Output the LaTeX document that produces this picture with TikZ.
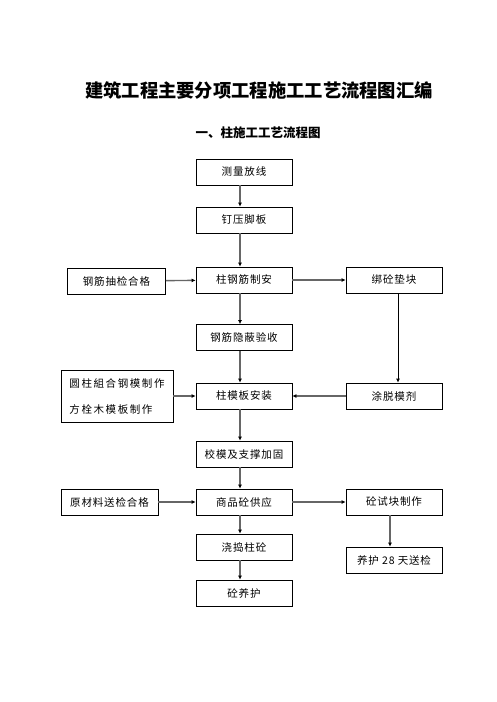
\documentclass[tikz,border=0pt]{standalone}
\usepackage{fontspec}
\newfontfamily\cjk{Noto Sans CJK SC}
\newfontfamily\cjkbox{Noto Sans CJK SC}[LetterSpace=8]
\newfontfamily\cjkwide{Noto Sans CJK SC}[LetterSpace=15]
\usetikzlibrary{arrows.meta}
\begin{document}
\begin{tikzpicture}[x=1pt,y=-1pt,
  box/.style={draw,line width=0.8pt,minimum width=96pt,minimum height=26pt,inner sep=0pt,font=\cjkbox\fontsize{10.5}{12}\selectfont},
  flow/.style={-{Latex[length=4pt,width=4pt,color=black]},draw=black!60,line width=1.4pt},
  thin/.style={-{Latex[length=4pt,width=4pt]},line width=0.8pt}]
\useasboundingbox[fill=white] (0,0) rectangle (496,702);
\node[font=\cjk\bfseries\fontsize{18.3}{22}\selectfont] (title) at (259,90) {建筑工程主要分项工程施工工艺流程图汇编};
\node[font=\cjk\bfseries\fontsize{12.5}{15}\selectfont] (sub) at (258,133) {一、柱施工工艺流程图};
\node[box] (clx) at (244,172) {测量放线};
\node[box] (dyjb) at (244,220) {钉压脚板};
\node[box] (gjza) at (244,280) {柱钢筋制安};
\node[box] (gjys) at (244,337.5) {钢筋隐蔽验收};
\node[box] (mbaz) at (244,396) {柱模板安装};
\node[box] (jmjg) at (244,454) {校模及支撑加固};
\node[box] (sphg) at (244,502) {商品砼供应};
\node[box] (jdzt) at (244,547) {浇捣柱砼};
\node[box] (tyh) at (244,593) {砼养护};
\node[box,minimum width=98pt] (gjcj) at (116.5,281) {钢筋抽检合格};
\node[box,minimum width=112pt,minimum height=52pt,align=left,font=\cjkwide\fontsize{10.5}{25.5}\selectfont] (mbzz) at (117,396.5) {圆柱組合钢模制作\\方栓木模板制作};
\node[box,minimum width=97pt] (ycl) at (109.5,502) {原材料送检合格};
\node[box] (btdk) at (394,280) {绑砼垫块};
\node[box] (tmj) at (394,396) {涂脱模剂};
\node[box] (tkzz) at (394,502) {砼试块制作};
\node[box] (yhsj) at (394,560) {养护\ 28\ 天送检};
\draw[flow] ([xshift=-4pt]clx.south) -- ([xshift=-4pt]dyjb.north);
\draw[flow] ([xshift=-4pt]dyjb.south) -- ([xshift=-4pt]gjza.north);
\draw[flow] ([xshift=-4pt]gjza.south) -- ([xshift=-4pt]gjys.north);
\draw[flow] ([xshift=-4pt]gjys.south) -- ([xshift=-4pt]mbaz.north);
\draw[flow] ([xshift=-4pt]mbaz.south) -- ([xshift=-4pt]jmjg.north);
\draw[flow] ([xshift=-4pt]jmjg.south) -- ([xshift=-4pt]sphg.north);
\draw[flow] ([xshift=-4pt]sphg.south) -- ([xshift=-4pt]jdzt.north);
\draw[flow] ([xshift=-4pt]jdzt.south) -- ([xshift=-4pt]tyh.north);
\draw[flow] (gjcj) -- (gjza);
\draw[flow] (gjza) -- (btdk);
\draw[thin] ([xshift=4pt]btdk.south) -- ([xshift=4pt]tmj.north);
\draw[flow] (mbzz.east |- mbaz) -- (mbaz);
\draw[flow] (tmj) -- (mbaz);
\draw[flow] (ycl) -- (sphg);
\draw[flow] (sphg) -- (tkzz);
\draw[flow] ([xshift=-4pt]tkzz.south) -- ([xshift=-4pt]yhsj.north);
\end{tikzpicture}
\end{document}
